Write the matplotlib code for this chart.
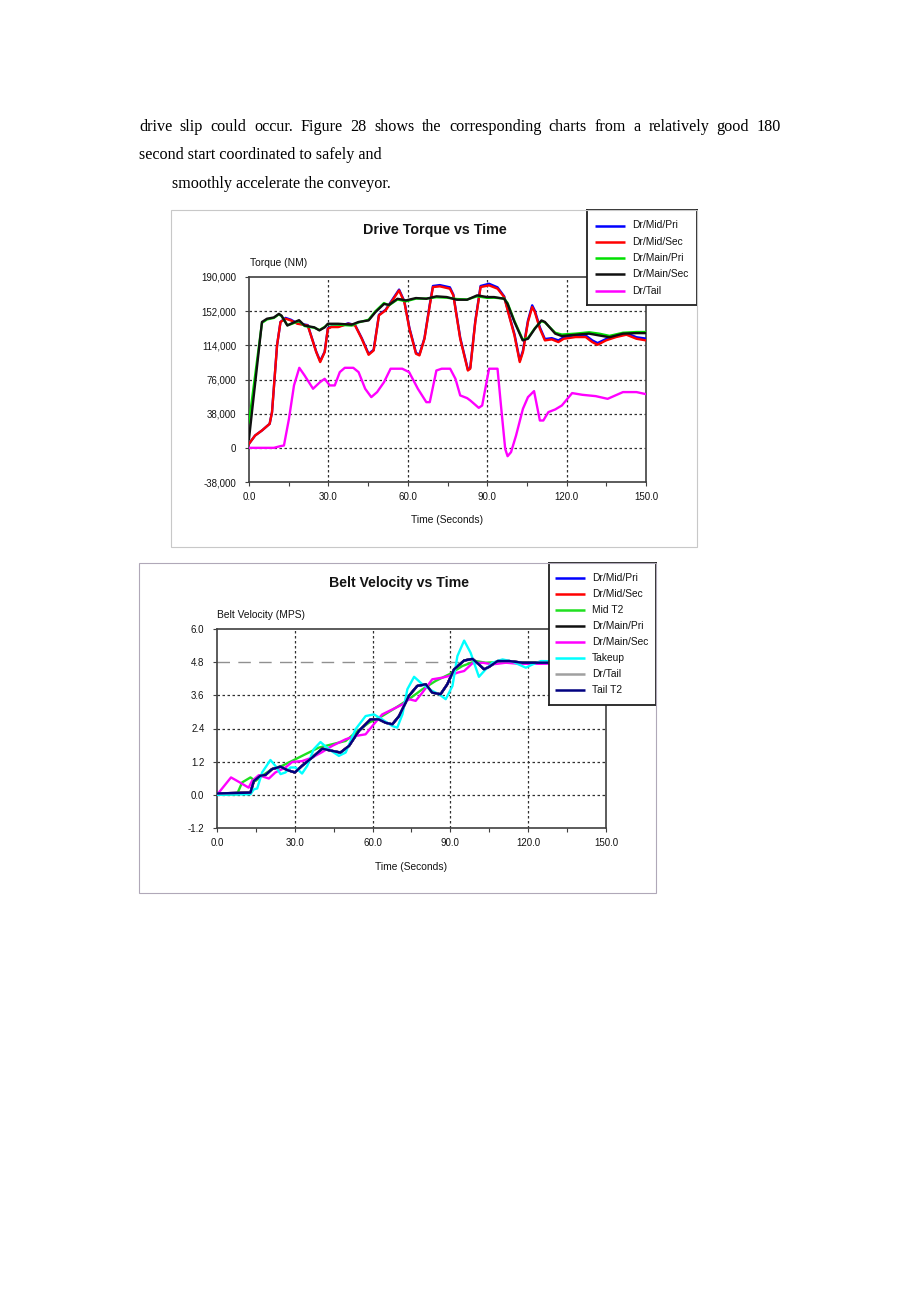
import matplotlib.pyplot as plt
import matplotlib.patches as patches
import numpy as np

W, H = 920, 1302

# ---------------- data: Drive Torque vs Time ----------------
t_mid_sec = [0, 2.3, 4.9, 7.8, 8.7, 10.6, 11.9, 13.8, 15.8, 18.3, 22.2, 23.4, 25.4, 26.9, 28.6, 29.8,
             31.1, 33.7, 37.5, 40.1, 42.6, 45.2, 47.1, 49.1, 51.6, 54.2, 56.7, 58.7, 60.6, 63.1, 64.4,
             66.3, 68.3, 69.5, 72.1, 75.9, 77.2, 79.8, 82.7, 83.6, 85.5, 87.5, 90.7, 93.9, 96.4, 98.4,
             100.3, 102.3, 103.5, 105.4, 107.0, 108.0, 109.9, 111.8, 114.4, 116.9, 118.9, 123.4, 127.2,
             129.7, 131.7, 134.9, 138.7, 142.6, 146.4, 150]
tq_mid_sec = [4500, 13700, 19300, 26700, 39700, 114000, 140000, 143600, 141700, 138000, 136000, 125000,
              106500, 95400, 106500, 132500, 134300, 134300, 138000, 136000, 121300, 103500, 108300,
              147300, 152900, 164000, 175100, 162000, 132500, 104600, 102800, 121300, 158400, 178800,
              179600, 177000, 169600, 121300, 86000, 88000, 140000, 178800, 180700, 177000, 167700,
              145500, 125000, 95400, 106500, 140000, 156600, 151000, 132500, 119500, 120600, 117600,
              121300, 123200, 123200, 117600, 114600, 119500, 123200, 125800, 121300, 119500]
t_mid_pri = t_mid_sec
tq_mid_pri = [4500, 13700, 19300, 26700, 39700, 114000, 140000, 144500, 142500, 138500, 136500, 125500,
              107000, 96500, 107000, 133000, 134800, 134800, 138500, 136500, 122000, 104500, 109000,
              148000, 153500, 165000, 176000, 163000, 133500, 105500, 103800, 122000, 159500, 180000,
              181000, 178500, 170500, 122500, 87000, 89000, 141000, 180000, 182500, 178500, 168500,
              146500, 126500, 97000, 108000, 141500, 158500, 152500, 134000, 121000, 122000, 119500,
              123000, 125500, 125000, 119500, 116500, 121000, 125000, 127500, 123000, 121500]

t_main_sec = [0, 4.9, 6.8, 9.4, 11.3, 12.3, 14.5, 15.8, 18.9, 21.0, 24.7, 26.6, 28.6, 29.8, 33.7, 38.8,
              41.4, 45.2, 47.8, 51.0, 52.9, 56.1, 59.3, 63.1, 67.0, 70.8, 74.7, 78.5, 82.4, 86.2, 90.0,
              92.6, 96.4, 97.7, 100.3, 103.4, 105.4, 108.0, 110.5, 111.8, 115.7, 118.2, 123.4, 128.5,
              132.3, 136.2, 141.3, 146.4, 150]
tq_main_sec = [10000, 140000, 143600, 145000, 149000, 147000, 136000, 138000, 142000, 136000, 134000,
               130600, 134000, 138000, 138000, 137000, 140000, 141700, 151000, 160000, 159000, 165800,
               164000, 166600, 165800, 168500, 167700, 164700, 164700, 169600, 167700, 167700, 165800,
               160000, 140000, 119500, 121300, 132500, 141700, 140000, 127000, 124300, 125800, 127000,
               125000, 123000, 127000, 127600, 127600]
t_main_pri = t_main_sec
tq_main_pri = [28000, 139000, 142800, 144500, 148500, 146500, 136500, 137500, 141000, 135500, 133500,
               131000, 134500, 137500, 137000, 136000, 139500, 142500, 152000, 161000, 158500, 165000,
               163000, 166000, 166000, 167500, 167000, 165500, 165000, 168500, 166800, 167000, 166000,
               161000, 141000, 120500, 122000, 133000, 141000, 139500, 128000, 126000, 127000, 128500,
               127000, 124500, 128000, 128800, 128800]

t_tail = [0, 9.4, 11.9, 13.2, 15.1, 17.0, 19.0, 21.0, 24.2, 26.8, 28.6, 30.5, 32.4, 34.3, 36.2, 39.4,
          41.4, 43.9, 46.2, 48.4, 51.0, 53.5, 57.9, 60.5, 63.8, 67.0, 68.3, 70.8, 72.8, 76.0, 78.0, 79.8,
          82.4, 83.6, 86.8, 88.1, 90.7, 93.9, 95.2, 96.8, 97.7, 99.0, 100.9, 103.5, 105.4, 107.7, 109.9,
          111.2, 113.1, 115.7, 118.2, 122.1, 125.9, 131.0, 135.5, 141.3, 146.4, 150]
tq_tail = [0, 0, 1900, 2600, 32300, 69400, 89000, 80500, 65700, 73000, 76800, 69400, 69400, 84200, 89000,
           89000, 84200, 65700, 56400, 62000, 73000, 88000, 88000, 84200, 65700, 50800, 50800, 86000,
           88000, 88000, 76800, 58300, 55300, 52700, 44500, 47100, 88000, 88000, 47100, -1100, -9300,
           -4800, 13700, 43400, 56400, 63100, 30400, 30400, 39700, 42700, 47100, 60900, 59000, 57500,
           54500, 62000, 62000, 59700]

torque_ticks = [-38000, 0, 38000, 76000, 114000, 152000, 190000]
torque_names = ["Dr/Mid/Pri", "Dr/Mid/Sec", "Dr/Main/Pri", "Dr/Main/Sec", "Dr/Tail"]

# ---------------- data: Belt Velocity vs Time ----------------
t_v_main_sec = [0, 5.4, 8.4, 12.2, 13.5, 16.1, 20.0, 22.5, 26.4, 29.0, 32.8, 36.7, 40.6, 44.4, 49.6, 53.4,
                57.3, 59.9, 63.7, 67.6, 71.5, 74.0, 76.6, 79.2, 83.0, 86.9, 89.5, 92.7, 95.3, 98.5, 102.4,
                106.2, 111.4, 116.5, 124.2, 150]
v_main_sec = [0, 0.63, 0.47, 0.26, 0.5, 0.71, 0.59, 0.81, 0.99, 1.19, 1.22, 1.35, 1.55, 1.77, 2.01, 2.13,
              2.19, 2.49, 2.91, 3.09, 3.27, 3.46, 3.40, 3.70, 4.18, 4.24, 4.30, 4.42, 4.48, 4.76, 4.78,
              4.72, 4.78, 4.74, 4.74, 4.76]

t_v_mid_t2 = [0, 7.7, 9.7, 12.9, 14.8, 17.4, 21.2, 25.1, 29.0, 34.1, 39.3, 44.4, 49.6, 53.4, 58.6, 63.7,
              68.9, 74.0, 79.2, 84.3, 89.5, 94.6, 99.8, 103.6, 108.8, 115.2, 150]
v_mid_t2 = [0, 0.02, 0.45, 0.63, 0.5, 0.69, 0.93, 1.05, 1.23, 1.47, 1.71, 1.83, 1.95, 2.25, 2.61, 2.85,
            3.15, 3.46, 3.82, 4.12, 4.36, 4.66, 4.84, 4.78, 4.80, 4.78, 4.78]

t_v_takeup = [0, 12.9, 14.2, 15.5, 17.4, 20.6, 22.5, 24.5, 26.4, 28.3, 30.3, 32.8, 34.8, 37.3, 39.9, 43.1,
              47.0, 49.6, 53.4, 57.3, 60.5, 63.7, 67.6, 69.5, 71.5, 73.4, 76.0, 79.2, 83.0, 85.6, 88.2,
              90.8, 92.7, 95.3, 97.8, 101.0, 103.6, 106.2, 110.1, 113.9, 119.1, 121.7, 124.9, 150]
v_takeup = [0, 0.02, 0.2, 0.23, 0.81, 1.26, 1.05, 0.75, 0.81, 0.99, 0.99, 0.77, 1.05, 1.65, 1.91, 1.65,
            1.41, 1.53, 2.37, 2.85, 2.91, 2.73, 2.49, 2.43, 2.91, 3.82, 4.27, 4.0, 3.76, 3.64, 3.46,
            3.94, 5.02, 5.58, 5.14, 4.27, 4.54, 4.78, 4.90, 4.82, 4.60, 4.72, 4.84, 4.80]

t_v_tail_t2 = [0, 12.9, 14.2, 16.7, 18.7, 21.2, 24.5, 27.0, 30.0, 32.8, 36.7, 40.6, 44.4, 47.6, 50.9,
               54.7, 59.2, 62.4, 65.0, 67.6, 70.2, 74.0, 77.2, 80.5, 83.0, 86.2, 88.8, 91.4, 95.3, 98.5,
               101.0, 103.0, 104.9, 108.2, 112.7, 117.8, 150]
v_tail_t2 = [0.05, 0.08, 0.5, 0.69, 0.72, 0.93, 1.02, 0.9, 0.81, 1.05, 1.35, 1.67, 1.59, 1.53, 1.77,
             2.31, 2.73, 2.73, 2.61, 2.55, 2.85, 3.58, 3.94, 4.0, 3.70, 3.64, 4.0, 4.54, 4.86, 4.92,
             4.72, 4.54, 4.63, 4.84, 4.84, 4.78, 4.78]

# hidden under Tail T2 in the picture
t_v_mid_pri, v_mid_pri = t_v_tail_t2, v_tail_t2
t_v_mid_sec, v_mid_sec = t_v_tail_t2, v_tail_t2
t_v_main_pri, v_main_pri = t_v_tail_t2, v_tail_t2
t_v_tail, v_tail = t_v_tail_t2, v_tail_t2

target_velocity = 4.8
vel_ticks = [-1.2, 0.0, 1.2, 2.4, 3.6, 4.8, 6.0]
vel_names = ["Dr/Mid/Pri", "Dr/Mid/Sec", "Mid T2", "Dr/Main/Pri", "Dr/Main/Sec", "Takeup", "Dr/Tail", "Tail T2"]

time_ticks = [0, 30, 60, 90, 120, 150]
time_minor = [15, 45, 75, 105, 135]

body_line1 = "drive slip could occur. Figure 28 shows the corresponding charts from a relatively good 180"
body_line2 = "second start coordinated to safely and"
body_line3 = "smoothly accelerate the conveyor."

# ---------------- figure ----------------
fig = plt.figure(figsize=(W / 100, H / 100), dpi=100)
fig.patch.set_facecolor("white")
sans = "Liberation Sans"
serif = "Liberation Serif"
txt_col = "#141414"
lab_size = 7.4
tick_size = 7.0


def fx(x):
    return x / W


def fy(y):
    return 1 - y / H


def px_axes(left, top, right, bottom, **kw):
    return fig.add_axes([fx(left), fy(bottom), (right - left) / W, (bottom - top) / H], **kw)


# body text, first line justified
words = body_line1.split(" ")
objs = [fig.text(0, fy(127), w, fontsize=11.6, family=serif, va="center") for w in words]
fig.canvas.draw()
rend = fig.canvas.get_renderer()
widths = [o.get_window_extent(rend).width for o in objs]
gap = (781 - 139 - sum(widths)) / (len(words) - 1)
xpos = 139
for o, w in zip(objs, widths):
    o.set_x(fx(xpos))
    xpos += w + gap
fig.text(fx(139), fy(155), body_line2, fontsize=11.6, family=serif, va="center")
fig.text(fx(172), fy(184), body_line3, fontsize=11.6, family=serif, va="center")

# outer frames of the two charts
fig.patches.append(patches.Rectangle((fx(171), fy(547)), (697 - 171) / W, (547 - 210) / H,
                                     transform=fig.transFigure, fill=False, ec="#c8c8c8", lw=0.8))
fig.patches.append(patches.Rectangle((fx(139), fy(893)), (656 - 139) / W, (893 - 563) / H,
                                     transform=fig.transFigure, fill=False, ec="#b0a8b8", lw=0.8))


def style_axes(ax, yticks, yfmt, hgrid):
    ax.set_xlim(0, 150)
    ax.set_ylim(yticks[0], yticks[-1])
    ax.set_xticks(time_ticks)
    ax.set_xticks(time_minor, minor=True)
    ax.set_xticklabels(["%.1f" % t for t in time_ticks])
    ax.set_yticks(yticks)
    ax.set_yticklabels([yfmt(v) for v in yticks])
    ax.tick_params(axis="both", which="both", direction="out", length=3, width=0.8,
                   color="#404040", labelsize=tick_size, labelcolor=txt_col, pad=6)
    ax.tick_params(axis="x", pad=4.5)
    for lab in ax.get_xticklabels() + ax.get_yticklabels():
        lab.set_family(sans)
    for s in ax.spines.values():
        s.set_color("#404040")
        s.set_linewidth(1.2)
    for t in time_ticks[1:-1]:
        ax.axvline(t, color="#303030", lw=0.9, ls=(0, (2, 2)), zorder=1)
    for v in hgrid:
        ax.axhline(v, color="#303030", lw=0.9, ls=(0, (2, 2)), zorder=1)


def legend_box(left, top, right, bottom, names, colors, first_row, step, x_line0, x_line1, x_text):
    lg = px_axes(left, top, right, bottom)
    lg.set_xlim(left, right)
    lg.set_ylim(bottom, top)
    lg.set_xticks([])
    lg.set_yticks([])
    for s in lg.spines.values():
        s.set_color("#202020")
        s.set_linewidth(1.3)
    for i, (n, c) in enumerate(zip(names, colors)):
        yy = first_row + i * step
        lg.plot([x_line0, x_line1], [yy, yy], color=c, lw=1.8, solid_capstyle="butt")
        lg.text(x_text, yy, n, fontsize=lab_size, family=sans, color=txt_col, va="center", ha="left")


# ---------------- chart 1: Drive Torque vs Time ----------------
ax1 = px_axes(249, 277, 646, 482)
style_axes(ax1, torque_ticks, lambda v: f"{v:,}", torque_ticks[1:-1])
lw = 1.7
ax1.plot(t_mid_pri, tq_mid_pri, color="#0000ff", lw=lw, zorder=3)
ax1.plot(t_mid_sec, tq_mid_sec, color="#ff0000", lw=lw, zorder=3)
ax1.plot(t_main_pri, tq_main_pri, color="#00e000", lw=lw, zorder=3)
ax1.plot(t_main_sec, tq_main_sec, color="#101010", lw=lw, zorder=3)
ax1.plot(t_tail, tq_tail, color="#ff00ff", lw=lw, zorder=3)
ax1.set_xlabel("Time (Seconds)", fontsize=lab_size, family=sans, color=txt_col, labelpad=9)
fig.text(fx(435), fy(230), "Drive Torque vs Time", fontsize=10.3, family=sans, weight="bold",
         color=txt_col, ha="center", va="center")
fig.text(fx(250), fy(263), "Torque (NM)", fontsize=lab_size, family=sans, color=txt_col, ha="left", va="center")
legend_box(587, 210, 697, 305, torque_names,
           ["#0000ff", "#ff0000", "#00e000", "#101010", "#ff00ff"], 225.5, 16.3, 595, 625, 632)

# ---------------- chart 2: Belt Velocity vs Time ----------------
ax2 = px_axes(217, 629, 606, 828)
style_axes(ax2, vel_ticks, lambda v: "%.1f" % v, [0.0, 1.2, 2.4, 3.6])
ax2.axhline(target_velocity, color="#909090", lw=1.0, ls=(0, (9, 6)), zorder=1)
ax2.plot(t_v_mid_pri, v_mid_pri, color="#0000ff", lw=lw, zorder=3)
ax2.plot(t_v_mid_sec, v_mid_sec, color="#ff0000", lw=lw, zorder=3)
ax2.plot(t_v_mid_t2, v_mid_t2, color="#20e020", lw=lw, zorder=3)
ax2.plot(t_v_main_pri, v_main_pri, color="#101010", lw=lw, zorder=3)
ax2.plot(t_v_main_sec, v_main_sec, color="#ff00ff", lw=lw, zorder=3)
ax2.plot(t_v_takeup, v_takeup, color="#00ffff", lw=lw, zorder=3)
ax2.plot(t_v_tail, v_tail, color="#a0a0a0", lw=lw, zorder=3)
ax2.plot(t_v_tail_t2, v_tail_t2, color="#000080", lw=lw, zorder=3)
ax2.set_xlabel("Time (Seconds)", fontsize=lab_size, family=sans, color=txt_col, labelpad=10)
fig.text(fx(399), fy(583), "Belt Velocity vs Time", fontsize=10.2, family=sans, weight="bold",
         color=txt_col, ha="center", va="center")
fig.text(fx(217), fy(615), "Belt Velocity (MPS)", fontsize=lab_size, family=sans, color=txt_col,
         ha="left", va="center")
legend_box(549, 563, 656, 705, vel_names,
           ["#0000ff", "#ff0000", "#20e020", "#101010", "#ff00ff", "#00ffff", "#a0a0a0", "#000080"],
           578, 16.0, 555, 585, 592)

fig.savefig("out.png", dpi=100)
